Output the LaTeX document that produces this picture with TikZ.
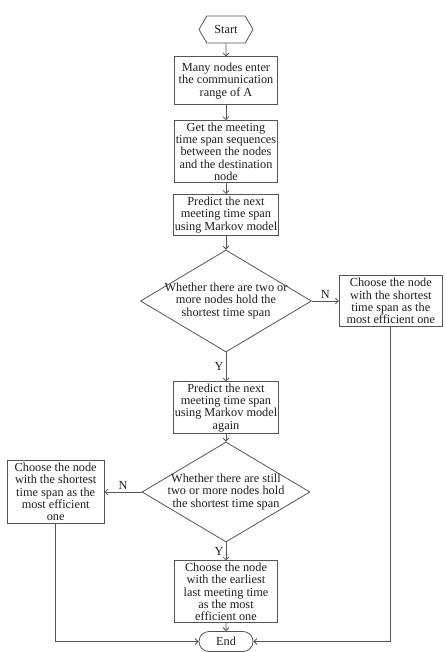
\documentclass[tikz,border=0pt]{standalone}
\usepackage{fontspec}
\setmainfont{Liberation Serif}
\usetikzlibrary{shapes.geometric, shapes.misc, shapes.symbols, arrows.meta, positioning}
\definecolor{flowline}{RGB}{85,85,85}
\definecolor{flowtext}{RGB}{30,30,30}
\newcommand{\flowfont}{\fontsize{12.3}{12.3}\selectfont}
\tikzset{
  stepbox/.style={rectangle, draw=flowline, line width=0.8pt, text=flowtext,
    minimum width=103pt, inner xsep=1pt, inner ysep=0pt, align=center,
    font=\flowfont},
  decision/.style={diamond, draw=flowline, line width=0.8pt, text=flowtext,
    shape aspect=1.67, inner xsep=-10pt, inner ysep=-4pt, align=center, font=\flowfont},
  terminal/.style={draw=flowline, line width=0.8pt, text=flowtext,
    inner sep=0pt, font=\flowfont},
  arrow/.style={-{Straight Barb[length=3pt, width=6pt]}, line width=0.8pt, color=flowline},
  lbl/.style={text=flowtext, font=\flowfont, inner sep=2pt}
}

\begin{document}
\begin{tikzpicture}[x=1pt, y=-1pt]
  \useasboundingbox (0,0) rectangle (445,652);
  % main column
  \node[terminal, signal, signal to=west and east, signal pointer angle=120,
        minimum width=54pt, minimum height=27pt] (start) at (226,29.5) {Start};
  \node[stepbox, minimum height=48pt, below=13pt of start] (enter)
       {Many nodes enter\\the communication\\range of A};
  \node[stepbox, minimum height=62pt, below=15pt of enter] (getseq)
       {Get the meeting\\time span sequences\\between the nodes\\and the destination\\node};
  \node[stepbox, minimum height=41pt, below=11pt of getseq] (predict)
       {Predict the next\\meeting time span\\using Markov model};
  \node[decision, minimum width=171pt, minimum height=102pt] (twoor) at (226,301)
       {Whether there are two or\\more nodes hold the\\shortest time span};
  \node[stepbox, minimum height=52pt, below=29pt of twoor] (again)
       {Predict the next\\meeting time span\\using Markov model\\again};
  \node[decision, minimum width=168pt, minimum height=100pt] (still) at (226,492)
       {Whether there are still\\two or more nodes hold\\the shortest time span};
  \node[stepbox, minimum height=62pt, below=18pt of still] (earliest)
       {Choose the node\\with the earliest\\last meeting time\\as the most\\efficient one};
  \node[terminal, rounded rectangle, minimum width=54pt, minimum height=20pt] (finish)
       at (226,641.5) {End};
  % side boxes
  \node[stepbox, minimum height=51pt, right=27pt of twoor] (shortR)
       {Choose the node\\with the shortest\\time span as the\\most efficient one};
  \node[stepbox, minimum width=97pt, minimum height=63pt, left=37pt of still] (shortL)
       {Choose the node\\with the shortest\\time span as the\\most efficient\\one};
  % connectors
  \draw[arrow] (start) -- (enter);
  \draw[arrow] (enter) -- (getseq);
  \draw[arrow] (getseq) -- (predict);
  \draw[arrow] (predict) -- (twoor);
  \draw[arrow] (twoor) -- node[lbl, above] {N} (shortR);
  \draw[arrow] (twoor) -- node[lbl, left] {Y} (again);
  \draw[arrow] (again) -- (still);
  \draw[arrow] (still) -- node[lbl, above] {N} (shortL);
  \draw[arrow] (still) -- node[lbl, left] {Y} (earliest);
  \draw[arrow] (earliest) -- (finish);
  \draw[arrow] (shortR.south) |- (finish.east);
  \draw[arrow] (shortL.south) |- (finish.west);
\end{tikzpicture}
\end{document}
